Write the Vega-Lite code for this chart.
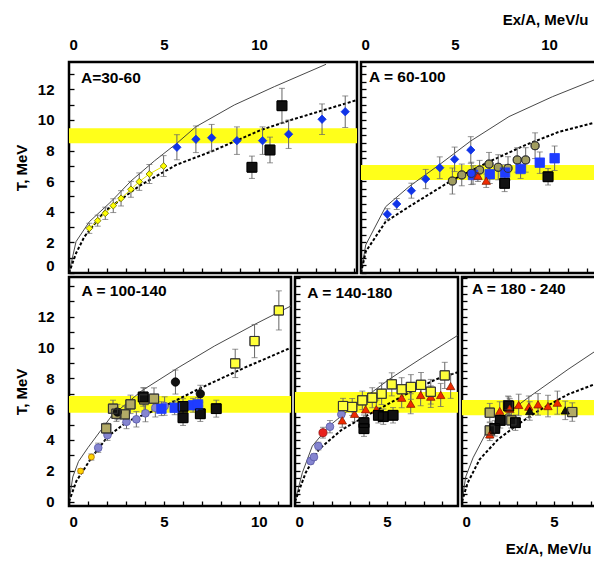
{
  "$schema": "https://vega.github.io/schema/vega-lite/v6.json",
  "background": "white",
  "padding": {"left": 13, "top": 10, "right": 0, "bottom": 0},
  "config": {
    "view": {"stroke": "#000", "strokeWidth": 2.5},
    "font": "Liberation Sans",
    "axis": {"labelFont": "Liberation Sans", "labelFontWeight": "bold", "labelFontSize": 15, "labelColor": "#000",
             "titleFont": "Liberation Sans", "titleFontWeight": "bold", "titleFontSize": 15, "titleColor": "#000",
             "tickColor": "#000", "tickWidth": 1.3, "domain": false, "grid": false, "labelOverlap": false}
  },
  "datasets": {
    "pts": [
      {"p":1,"s":"ydia","E":1.07,"T":2.92,"err":0.33},
      {"p":1,"s":"ydia","E":1.51,"T":3.42,"err":0.36},
      {"p":1,"s":"ydia","E":1.91,"T":3.9,"err":0.4},
      {"p":1,"s":"ydia","E":2.33,"T":4.4,"err":0.45},
      {"p":1,"s":"ydia","E":2.74,"T":4.88,"err":0.5},
      {"p":1,"s":"ydia","E":3.26,"T":5.47,"err":0.52},
      {"p":1,"s":"ydia","E":3.7,"T":5.97,"err":0.57},
      {"p":1,"s":"ydia","E":4.23,"T":6.47,"err":0.62},
      {"p":1,"s":"ydia","E":4.98,"T":6.99,"err":0.68},
      {"p":1,"s":"bdia","E":5.68,"T":8.22,"err":0.82},
      {"p":1,"s":"bdia","E":6.68,"T":8.74,"err":0.87},
      {"p":1,"s":"bdia","E":7.51,"T":8.84,"err":0.87},
      {"p":1,"s":"bdia","E":8.84,"T":8.65,"err":0.9},
      {"p":1,"s":"bdia","E":10.19,"T":8.65,"err":0.9},
      {"p":1,"s":"bdia","E":11.56,"T":9.07,"err":0.93},
      {"p":1,"s":"bdia","E":13.32,"T":10.05,"err":1.0},
      {"p":1,"s":"bdia","E":14.54,"T":10.54,"err":1.03},
      {"p":1,"s":"bsq","E":9.63,"T":6.91,"err":0.73},
      {"p":1,"s":"bsq","E":10.58,"T":8.04,"err":0.84},
      {"p":1,"s":"bsq","E":11.21,"T":10.93,"err":1.14},

      {"p":2,"s":"bdia","E":1.4,"T":3.84,"err":0.36},
      {"p":2,"s":"bdia","E":1.9,"T":4.51,"err":0.36},
      {"p":2,"s":"bdia","E":2.68,"T":5.38,"err":0.49},
      {"p":2,"s":"bdia","E":3.44,"T":6.14,"err":0.63},
      {"p":2,"s":"bdia","E":4.19,"T":6.88,"err":0.71},
      {"p":2,"s":"bdia","E":4.98,"T":7.43,"err":0.8},
      {"p":2,"s":"bdia","E":5.84,"T":8.04,"err":0.87},
      {"p":2,"s":"olc","E":4.86,"T":6.01,"err":0.85},
      {"p":2,"s":"olc","E":5.36,"T":6.41,"err":0.71},
      {"p":2,"s":"olc","E":5.87,"T":6.51,"err":0.73},
      {"p":2,"s":"olc","E":6.31,"T":6.73,"err":0.63},
      {"p":2,"s":"olc","E":6.81,"T":7.12,"err":0.76},
      {"p":2,"s":"olc","E":7.3,"T":6.91,"err":0.82},
      {"p":2,"s":"olc","E":7.82,"T":6.84,"err":0.76},
      {"p":2,"s":"olc","E":8.31,"T":7.39,"err":0.8},
      {"p":2,"s":"olc","E":8.76,"T":7.39,"err":0.8},
      {"p":2,"s":"olc","E":9.26,"T":8.32,"err":0.84},
      {"p":2,"s":"blsq","E":5.96,"T":6.41,"err":0.6},
      {"p":2,"s":"blsq","E":6.85,"T":6.45,"err":0.6},
      {"p":2,"s":"blsq","E":7.66,"T":6.56,"err":0.52},
      {"p":2,"s":"blsq","E":8.49,"T":6.8,"err":0.62},
      {"p":2,"s":"blsq","E":9.51,"T":7.21,"err":0.7},
      {"p":2,"s":"blsq","E":10.3,"T":7.5,"err":0.8},
      {"p":2,"s":"rtri","E":6.22,"T":6.36,"err":0.38},
      {"p":2,"s":"rtri","E":6.66,"T":6.03,"err":0.44},
      {"p":2,"s":"bsq","E":7.64,"T":5.86,"err":0.54},
      {"p":2,"s":"bsq","E":9.95,"T":6.29,"err":0.54},

      {"p":3,"s":"ysmall","E":0.61,"T":1.98,"err":0.15},
      {"p":3,"s":"ysmall","E":1.18,"T":2.89,"err":0.2},
      {"p":3,"s":"lavc","E":1.54,"T":3.49,"err":0.3},
      {"p":3,"s":"lavc","E":2.03,"T":4.32,"err":0.35},
      {"p":3,"s":"lavc","E":3.03,"T":5.18,"err":0.45},
      {"p":3,"s":"lavc","E":3.55,"T":5.34,"err":0.5},
      {"p":3,"s":"lavc","E":4.03,"T":5.73,"err":0.55},
      {"p":3,"s":"lavc","E":4.55,"T":6.09,"err":0.6},
      {"p":3,"s":"lavc","E":5.04,"T":6.2,"err":0.6},
      {"p":3,"s":"hsq","E":1.96,"T":4.75,"err":0.35},
      {"p":3,"s":"hsq","E":2.32,"T":6.03,"err":0.55},
      {"p":3,"s":"hsq","E":2.5,"T":5.7,"err":0.5},
      {"p":3,"s":"hsq","E":2.94,"T":5.66,"err":0.55},
      {"p":3,"s":"hsq","E":3.24,"T":6.31,"err":0.6},
      {"p":3,"s":"hsq","E":3.96,"T":6.63,"err":0.75},
      {"p":3,"s":"hsq","E":4.48,"T":6.68,"err":0.7},
      {"p":3,"s":"blc","E":2.55,"T":5.81,"err":0.5},
      {"p":3,"s":"blc","E":5.61,"T":7.76,"err":0.78},
      {"p":3,"s":"blc","E":6.92,"T":7.0,"err":0.55},
      {"p":3,"s":"bsq","E":3.91,"T":6.79,"err":0.6},
      {"p":3,"s":"bsq","E":6.01,"T":6.18,"err":0.5},
      {"p":3,"s":"bsq","E":6.01,"T":5.44,"err":0.5},
      {"p":3,"s":"bsq","E":6.92,"T":5.7,"err":0.5},
      {"p":3,"s":"bsq","E":7.76,"T":6.03,"err":0.55},
      {"p":3,"s":"blsq","E":4.87,"T":6.03,"err":0.45},
      {"p":3,"s":"blsq","E":5.57,"T":6.09,"err":0.45},
      {"p":3,"s":"blsq","E":6.54,"T":6.25,"err":0.45},
      {"p":3,"s":"blsq","E":6.8,"T":6.31,"err":0.45},
      {"p":3,"s":"ysq","E":8.76,"T":8.97,"err":0.92},
      {"p":3,"s":"ysq","E":9.78,"T":10.42,"err":1.08},
      {"p":3,"s":"ysq","E":11.06,"T":12.41,"err":1.27},

      {"p":4,"s":"lavc","E":0.85,"T":2.63,"err":0.2},
      {"p":4,"s":"lavc","E":1.03,"T":2.89,"err":0.2},
      {"p":4,"s":"lavc","E":1.27,"T":3.6,"err":0.25},
      {"p":4,"s":"lavc","E":1.9,"T":4.86,"err":0.4},
      {"p":4,"s":"lavc","E":2.52,"T":5.66,"err":0.45},
      {"p":4,"s":"rcirc","E":1.52,"T":4.47,"err":0.35},
      {"p":4,"s":"rtri","E":2.57,"T":5.27,"err":0.45},
      {"p":4,"s":"rtri","E":3.24,"T":5.7,"err":0.5},
      {"p":4,"s":"rtri","E":3.84,"T":5.99,"err":0.55},
      {"p":4,"s":"rtri","E":4.42,"T":5.99,"err":0.6},
      {"p":4,"s":"rtri","E":5.8,"T":6.74,"err":0.65},
      {"p":4,"s":"rtri","E":6.29,"T":6.35,"err":0.65},
      {"p":4,"s":"rtri","E":6.83,"T":6.92,"err":0.7},
      {"p":4,"s":"rtri","E":7.38,"T":6.81,"err":0.7},
      {"p":4,"s":"rtri","E":7.92,"T":6.92,"err":0.75},
      {"p":4,"s":"rtri","E":8.46,"T":7.5,"err":0.8},
      {"p":4,"s":"ysq","E":2.61,"T":6.2,"err":0.5},
      {"p":4,"s":"ysq","E":3.11,"T":6.14,"err":0.55},
      {"p":4,"s":"ysq","E":3.66,"T":6.57,"err":0.6},
      {"p":4,"s":"ysq","E":4.2,"T":6.74,"err":0.65},
      {"p":4,"s":"ysq","E":4.71,"T":7.0,"err":0.7},
      {"p":4,"s":"ysq","E":5.26,"T":7.61,"err":0.75},
      {"p":4,"s":"ysq","E":5.8,"T":7.29,"err":0.75},
      {"p":4,"s":"ysq","E":6.3,"T":7.44,"err":0.8},
      {"p":4,"s":"ysq","E":6.85,"T":7.58,"err":0.8},
      {"p":4,"s":"ysq","E":7.38,"T":7.13,"err":0.8},
      {"p":4,"s":"ysq","E":8.14,"T":8.19,"err":0.85},
      {"p":4,"s":"bsq","E":3.75,"T":5.12,"err":0.5},
      {"p":4,"s":"bsq","E":3.75,"T":4.73,"err":0.5},
      {"p":4,"s":"bsq","E":4.53,"T":5.6,"err":0.5},
      {"p":4,"s":"bsq","E":4.8,"T":5.51,"err":0.5},
      {"p":4,"s":"bsq","E":5.33,"T":5.6,"err":0.5},

      {"p":5,"s":"hsq","E":1.51,"T":5.77,"err":0.6},
      {"p":5,"s":"hsq","E":1.51,"T":4.62,"err":0.5},
      {"p":5,"s":"hsq","E":2.5,"T":6.25,"err":0.6},
      {"p":5,"s":"hsq","E":2.68,"T":5.27,"err":0.5},
      {"p":5,"s":"hsq","E":5.99,"T":5.81,"err":0.6},
      {"p":5,"s":"bsq","E":1.78,"T":4.75,"err":0.5},
      {"p":5,"s":"bsq","E":2.08,"T":5.27,"err":0.5},
      {"p":5,"s":"bsq","E":2.54,"T":6.2,"err":0.6},
      {"p":5,"s":"bsq","E":2.9,"T":5.12,"err":0.5},
      {"p":5,"s":"rtri","E":1.51,"T":4.36,"err":0.4},
      {"p":5,"s":"rtri","E":2.05,"T":5.88,"err":0.6},
      {"p":5,"s":"rtri","E":2.59,"T":6.03,"err":0.65},
      {"p":5,"s":"rtri","E":3.08,"T":6.27,"err":0.7},
      {"p":5,"s":"rtri","E":3.63,"T":6.16,"err":0.7},
      {"p":5,"s":"rtri","E":4.13,"T":6.31,"err":0.7},
      {"p":5,"s":"rtri","E":4.67,"T":6.2,"err":0.7},
      {"p":5,"s":"rtri","E":5.18,"T":6.42,"err":0.75},
      {"p":5,"s":"btri","E":3.68,"T":5.88,"err":0.6},
      {"p":5,"s":"btri","E":5.61,"T":5.92,"err":0.6}
    ],
    "curves": [
      {"p":1,"c":"solid","E":0,"T":0},{"p":1,"c":"solid","E":0.37,"T":2.05},{"p":1,"c":"solid","E":1.07,"T":3.35},
      {"p":1,"c":"solid","E":2.21,"T":4.66},{"p":1,"c":"solid","E":3.26,"T":6.01},{"p":1,"c":"solid","E":4.49,"T":7.32},
      {"p":1,"c":"solid","E":5.68,"T":8.48},{"p":1,"c":"solid","E":6.68,"T":9.56},{"p":1,"c":"solid","E":8.7,"T":10.98},
      {"p":1,"c":"solid","E":10.81,"T":12.18},{"p":1,"c":"solid","E":13.53,"T":13.64},
      {"p":1,"c":"dashed","E":0,"T":0},{"p":1,"c":"dashed","E":0.37,"T":1.29},{"p":1,"c":"dashed","E":0.81,"T":2.37},
      {"p":1,"c":"dashed","E":1.86,"T":4.01},{"p":1,"c":"dashed","E":3.7,"T":5.69},{"p":1,"c":"dashed","E":5.63,"T":7.06},
      {"p":1,"c":"dashed","E":7.47,"T":7.93},{"p":1,"c":"dashed","E":10.11,"T":9.35},{"p":1,"c":"dashed","E":11.68,"T":10.0},
      {"p":1,"c":"dashed","E":15.15,"T":11.3},

      {"p":2,"c":"solid","E":0,"T":0},{"p":2,"c":"solid","E":0.25,"T":1.83},{"p":2,"c":"solid","E":1.31,"T":4.33},
      {"p":2,"c":"solid","E":2.55,"T":5.64},{"p":2,"c":"solid","E":4.15,"T":7.06},{"p":2,"c":"solid","E":5.84,"T":8.63},
      {"p":2,"c":"solid","E":7.87,"T":10.22},{"p":2,"c":"solid","E":10.18,"T":11.52},{"p":2,"c":"solid","E":12.61,"T":12.72},
      {"p":2,"c":"dashed","E":0,"T":0},{"p":2,"c":"dashed","E":0.25,"T":1.39},{"p":2,"c":"dashed","E":1.31,"T":3.35},
      {"p":2,"c":"dashed","E":2.55,"T":4.33},{"p":2,"c":"dashed","E":4.86,"T":6.08},{"p":2,"c":"dashed","E":6.81,"T":7.27},
      {"p":2,"c":"dashed","E":8.76,"T":8.37},{"p":2,"c":"dashed","E":10.56,"T":9.24},{"p":2,"c":"dashed","E":12.61,"T":9.89},

      {"p":3,"c":"solid","E":0,"T":0},{"p":3,"c":"solid","E":0.2,"T":1.6},{"p":3,"c":"solid","E":0.5,"T":2.6},
      {"p":3,"c":"solid","E":1.0,"T":3.5},{"p":3,"c":"solid","E":2.24,"T":5.55},{"p":3,"c":"solid","E":3.82,"T":7.18},
      {"p":3,"c":"solid","E":5.75,"T":8.69},{"p":3,"c":"solid","E":7.67,"T":10.1},{"p":3,"c":"solid","E":9.78,"T":11.5},
      {"p":3,"c":"solid","E":11.7,"T":12.7},
      {"p":3,"c":"dashed","E":0,"T":0},{"p":3,"c":"dashed","E":0.39,"T":1.33},{"p":3,"c":"dashed","E":1.18,"T":2.84},
      {"p":3,"c":"dashed","E":2.06,"T":4.25},{"p":3,"c":"dashed","E":3.12,"T":5.23},{"p":3,"c":"dashed","E":4.87,"T":6.09},
      {"p":3,"c":"dashed","E":6.97,"T":7.39},{"p":3,"c":"dashed","E":9.25,"T":8.69},{"p":3,"c":"dashed","E":11.7,"T":9.99},

      {"p":4,"c":"solid","E":0,"T":0},{"p":4,"c":"solid","E":0.4,"T":1.87},{"p":4,"c":"solid","E":0.94,"T":3.6},
      {"p":4,"c":"solid","E":1.85,"T":4.9},{"p":4,"c":"solid","E":3.3,"T":6.31},{"p":4,"c":"solid","E":5.11,"T":7.93},
      {"p":4,"c":"solid","E":6.92,"T":9.34},{"p":4,"c":"solid","E":8.86,"T":10.8},
      {"p":4,"c":"dashed","E":0,"T":0},{"p":4,"c":"dashed","E":0.58,"T":1.87},{"p":4,"c":"dashed","E":1.3,"T":3.39},
      {"p":4,"c":"dashed","E":2.57,"T":4.69},{"p":4,"c":"dashed","E":4.2,"T":5.77},{"p":4,"c":"dashed","E":6.02,"T":6.96},
      {"p":4,"c":"dashed","E":7.65,"T":7.93},{"p":4,"c":"dashed","E":8.86,"T":8.4},

      {"p":5,"c":"solid","E":0,"T":0},{"p":5,"c":"solid","E":0.2,"T":1.6},{"p":5,"c":"solid","E":0.6,"T":2.84},
      {"p":5,"c":"solid","E":1.41,"T":4.69},{"p":5,"c":"solid","E":2.5,"T":5.77},{"p":5,"c":"solid","E":3.59,"T":6.74},
      {"p":5,"c":"solid","E":5.76,"T":8.58},{"p":5,"c":"solid","E":7.66,"T":10.1},
      {"p":5,"c":"dashed","E":0,"T":0},{"p":5,"c":"dashed","E":0.3,"T":1.2},{"p":5,"c":"dashed","E":0.96,"T":2.74},
      {"p":5,"c":"dashed","E":1.96,"T":4.04},{"p":5,"c":"dashed","E":3.04,"T":5.01},{"p":5,"c":"dashed","E":4.13,"T":5.88},
      {"p":5,"c":"dashed","E":5.76,"T":6.96},{"p":5,"c":"dashed","E":7.66,"T":7.82}
    ],
    "bands": [
      {"p":1,"lo":8.48,"hi":9.46},
      {"p":2,"lo":6.08,"hi":7.06},
      {"p":3,"lo":5.77,"hi":6.85},
      {"p":4,"lo":5.77,"hi":7.11},
      {"p":5,"lo":5.6,"hi":6.59}
    ],
    "labels": [
      {"p":1,"t":"A=30-60"},
      {"p":2,"t":"A = 60-100"},
      {"p":3,"t":"A = 100-140"},
      {"p":4,"t":"A = 140-180"},
      {"p":5,"t":"A = 180 - 240"}
    ]
  },
  "spacing": 0,
  "vconcat": [
    {
      "spacing": 0,
      "hconcat": [
        {
          "width": 288, "height": 211,
          "resolve": {"axis": {"x": "independent", "y": "independent"}},
          "layer": [
            {"data": {"name": "bands"}, "transform": [{"filter": "datum.p === 1"}],
             "mark": {"type": "rect", "color": "#ffff1a"},
             "encoding": {"x": {"value": 0}, "x2": {"value": "width"},
               "y": {"field": "lo", "type": "quantitative", "scale": {"domain": [0, 13.79], "nice": false, "zero": false},
                     "axis": {"orient": "left", "values": [0,0.5,1,1.5,2,2.5,3,3.5,4,4.5,5,5.5,6,6.5,7,7.5,8,8.5,9,9.5,10,10.5,11,11.5,12,12.5,13,13.5],
                              "format": "d", "labelExpr": "datum.value % 2 === 0 && datum.value <= 12 ? datum.label : ''",
                              "labelFlush": true,
                              "tickSize": 5, "offset": -5, "labelPadding": 15, "title": "T, MeV", "titlePadding": 8}},
               "y2": {"field": "hi"}}},
            {"data": {"name": "curves"}, "transform": [{"filter": "datum.p === 1 && datum.c === 'solid'"}],
             "mark": {"type": "line", "color": "#333", "strokeWidth": 0.9, "clip": true},
             "encoding": {"x": {"field": "E", "type": "quantitative", "scale": {"domain": [0, 15.16], "nice": false, "zero": false},
                                "axis": {"orient": "top", "values": [0, 5, 10], "ticks": false, "labelPadding": 10, "title": null}},
                          "y": {"field": "T", "type": "quantitative", "scale": {"domain": [0, 13.79], "nice": false, "zero": false}, "axis": null}}},
            {"data": {"name": "curves"}, "transform": [{"filter": "datum.p === 1 && datum.c === 'dashed'"}],
             "mark": {"type": "line", "color": "#000", "strokeWidth": 2, "strokeDash": [3, 2], "clip": true},
             "encoding": {"x": {"field": "E", "type": "quantitative", "scale": {"domain": [0, 15.16], "nice": false, "zero": false},
                                "axis": {"orient": "bottom", "values": [0,1,2,3,4,5,6,7,8,9,10,11,12,13,14,15], "labels": false, "title": null, "tickSize": 5, "offset": -5}},
                          "y": {"field": "T", "type": "quantitative", "scale": {"domain": [0, 13.79], "nice": false, "zero": false}, "axis": null}}},
            {"data": {"name": "pts"}, "transform": [{"filter": "datum.p === 1 && datum.s === 'ydia'"}],
             "mark": {"type": "line", "color": "#e6e600", "strokeWidth": 1},
             "encoding": {"x": {"field": "E", "type": "quantitative", "scale": {"domain": [0, 15.16], "nice": false, "zero": false}, "axis": null},
                          "y": {"field": "T", "type": "quantitative", "scale": {"domain": [0, 13.79], "nice": false, "zero": false}, "axis": null}}},
            {"data": {"name": "pts"}, "transform": [{"filter": "datum.p === 1"}],
             "mark": {"type": "errorbar", "ticks": true, "size": 6, "thickness": 1, "color": "#666"},
             "encoding": {"x": {"field": "E", "type": "quantitative", "scale": {"domain": [0, 15.16], "nice": false, "zero": false}, "axis": null},
                          "y": {"field": "T", "type": "quantitative", "scale": {"domain": [0, 13.79], "nice": false, "zero": false}, "axis": null},
                          "yError": {"field": "err"}}},
            {"data": {"name": "pts"}, "transform": [{"filter": "datum.p === 1"}],
             "mark": {"type": "point", "opacity": 1, "strokeWidth": 0.8},
             "encoding": {"x": {"field": "E", "type": "quantitative", "scale": {"domain": [0, 15.16], "nice": false, "zero": false}, "axis": null},
                          "y": {"field": "T", "type": "quantitative", "scale": {"domain": [0, 13.79], "nice": false, "zero": false}, "axis": null},
                          "shape": {"field": "s", "type": "nominal", "legend": null, "scale": {"domain": ["ydia","bdia","bsq","olc","blsq","rtri","lavc","ysmall","blc","ysq","hsq","btri","rcirc"], "range": ["diamond","diamond","square","circle","square","triangle-up","circle","circle","circle","square","square","triangle-up","circle"]}},
                          "fill": {"field": "s", "type": "nominal", "legend": null, "scale": {"domain": ["ydia","bdia","bsq","olc","blsq","rtri","lavc","ysmall","blc","ysq","hsq","btri","rcirc"], "range": ["#ffff00","#1034e8","#111111","#a19d5f","#1f3cff","#f02a00","#8585d0","#ffd400","#111111","#ffff3a","#b2aa66","#111111","#e8201c"]}},
                          "stroke": {"field": "s", "type": "nominal", "legend": null, "scale": {"domain": ["ydia","bdia","bsq","olc","blsq","rtri","lavc","ysmall","blc","ysq","hsq","btri","rcirc"], "range": ["#6b6b00","#1034e8","#000000","#333333","#1f3cff","#8a2000","#5858a8","#b07000","#000000","#333333","#333333","#000000","#901010"]}},
                          "size": {"field": "s", "type": "nominal", "legend": null, "scale": {"type": "ordinal", "domain": ["ydia","bdia","bsq","olc","blsq","rtri","lavc","ysmall","blc","ysq","hsq","btri","rcirc"], "range": [45,70,95,65,90,70,60,35,70,85,85,70,65]}}}},
            {"data": {"name": "pts"}, "transform": [{"filter": "datum.p === 1 && (datum.s === 'bsq' || datum.s === 'ysq' || datum.s === 'hsq' || datum.s === 'olc')"}],
             "mark": {"type": "point", "opacity": 1, "strokeWidth": 1, "filled": false},
             "encoding": {"x": {"field": "E", "type": "quantitative", "scale": {"domain": [0, 15.16], "nice": false, "zero": false}, "axis": null},
                          "y": {"field": "T", "type": "quantitative", "scale": {"domain": [0, 13.79], "nice": false, "zero": false}, "axis": null},
                          "shape": {"field": "s", "type": "nominal", "legend": null, "scale": {"domain": ["bsq","ysq","hsq","olc"], "range": ["M-1,0H1M0,-1V1","circle","M-1,-1L1,1M1,-1L-1,1","M-0.6,-0.6L0.6,0.6M0.6,-0.6L-0.6,0.6"]}},
                          "stroke": {"field": "s", "type": "nominal", "legend": null, "scale": {"domain": ["bsq","ysq","hsq","olc"], "range": ["#ffff66","#333333","#222222","#333333"]}},
                          "size": {"field": "s", "type": "nominal", "legend": null, "scale": {"type": "ordinal", "domain": ["bsq","ysq","hsq","olc"], "range": [40,4,50,30]}}}},
            {"data": {"name": "labels"}, "transform": [{"filter": "datum.p === 1"}],
             "mark": {"type": "text", "align": "left", "baseline": "middle", "font": "Liberation Sans", "fontWeight": "bold", "fontSize": 15.5, "color": "#000"},
             "encoding": {"x": {"datum": 0.63, "type": "quantitative", "scale": {"domain": [0, 15.16], "nice": false, "zero": false}, "axis": null},
                          "y": {"datum": 12.75, "type": "quantitative", "scale": {"domain": [0, 13.79], "nice": false, "zero": false}, "axis": null},
                          "text": {"field": "t"}}}
          ]
        },
        {
          "width": 238, "height": 211,
          "resolve": {"axis": {"x": "independent", "y": "independent"}},
          "layer": [
            {"data": {"name": "bands"}, "transform": [{"filter": "datum.p === 2"}],
             "mark": {"type": "rect", "color": "#ffff1a"},
             "encoding": {"x": {"value": 0}, "x2": {"value": "width"},
               "y": {"field": "lo", "type": "quantitative", "scale": {"domain": [0, 13.79], "nice": false, "zero": false},
                     "axis": {"orient": "left", "values": [0,0.5,1,1.5,2,2.5,3,3.5,4,4.5,5,5.5,6,6.5,7,7.5,8,8.5,9,9.5,10,10.5,11,11.5,12,12.5,13,13.5],
                              "labels": false, "title": null, "tickSize": 5, "offset": -5}},
               "y2": {"field": "hi"}}},
            {"data": {"name": "curves"}, "transform": [{"filter": "datum.p === 2 && datum.c === 'solid'"}],
             "mark": {"type": "line", "color": "#333", "strokeWidth": 0.9, "clip": true},
             "encoding": {"x": {"field": "E", "type": "quantitative", "scale": {"domain": [0, 12.66], "nice": false, "zero": false},
                                "axis": {"orient": "top", "values": [0, 5, 10], "ticks": false, "labelPadding": 10,
                                         "title": "Ex/A, MeV/u", "titleX": 227, "titleAlign": "right", "titlePadding": 10}},
                          "y": {"field": "T", "type": "quantitative", "scale": {"domain": [0, 13.79], "nice": false, "zero": false}, "axis": null}}},
            {"data": {"name": "curves"}, "transform": [{"filter": "datum.p === 2 && datum.c === 'dashed'"}],
             "mark": {"type": "line", "color": "#000", "strokeWidth": 2, "strokeDash": [3, 2], "clip": true},
             "encoding": {"x": {"field": "E", "type": "quantitative", "scale": {"domain": [0, 12.66], "nice": false, "zero": false},
                                "axis": {"orient": "bottom", "values": [0,1,2,3,4,5,6,7,8,9,10,11,12], "labels": false, "title": null, "tickSize": 5, "offset": -5}},
                          "y": {"field": "T", "type": "quantitative", "scale": {"domain": [0, 13.79], "nice": false, "zero": false}, "axis": null}}},
            {"data": {"name": "pts"}, "transform": [{"filter": "datum.p === 2"}],
             "mark": {"type": "errorbar", "ticks": true, "size": 6, "thickness": 1, "color": "#666"},
             "encoding": {"x": {"field": "E", "type": "quantitative", "scale": {"domain": [0, 12.66], "nice": false, "zero": false}, "axis": null},
                          "y": {"field": "T", "type": "quantitative", "scale": {"domain": [0, 13.79], "nice": false, "zero": false}, "axis": null},
                          "yError": {"field": "err"}}},
            {"data": {"name": "pts"}, "transform": [{"filter": "datum.p === 2"}],
             "mark": {"type": "point", "opacity": 1, "strokeWidth": 0.8},
             "encoding": {"x": {"field": "E", "type": "quantitative", "scale": {"domain": [0, 12.66], "nice": false, "zero": false}, "axis": null},
                          "y": {"field": "T", "type": "quantitative", "scale": {"domain": [0, 13.79], "nice": false, "zero": false}, "axis": null},
                          "shape": {"field": "s", "type": "nominal", "legend": null, "scale": {"domain": ["ydia","bdia","bsq","olc","blsq","rtri","lavc","ysmall","blc","ysq","hsq","btri","rcirc"], "range": ["diamond","diamond","square","circle","square","triangle-up","circle","circle","circle","square","square","triangle-up","circle"]}},
                          "fill": {"field": "s", "type": "nominal", "legend": null, "scale": {"domain": ["ydia","bdia","bsq","olc","blsq","rtri","lavc","ysmall","blc","ysq","hsq","btri","rcirc"], "range": ["#ffff00","#1034e8","#111111","#a19d5f","#1f3cff","#f02a00","#8585d0","#ffd400","#111111","#ffff3a","#b2aa66","#111111","#e8201c"]}},
                          "stroke": {"field": "s", "type": "nominal", "legend": null, "scale": {"domain": ["ydia","bdia","bsq","olc","blsq","rtri","lavc","ysmall","blc","ysq","hsq","btri","rcirc"], "range": ["#6b6b00","#1034e8","#000000","#333333","#1f3cff","#8a2000","#5858a8","#b07000","#000000","#333333","#333333","#000000","#901010"]}},
                          "size": {"field": "s", "type": "nominal", "legend": null, "scale": {"type": "ordinal", "domain": ["ydia","bdia","bsq","olc","blsq","rtri","lavc","ysmall","blc","ysq","hsq","btri","rcirc"], "range": [45,70,95,65,90,70,60,35,70,85,85,70,65]}}}},
            {"data": {"name": "pts"}, "transform": [{"filter": "datum.p === 2 && (datum.s === 'bsq' || datum.s === 'ysq' || datum.s === 'hsq' || datum.s === 'olc')"}],
             "mark": {"type": "point", "opacity": 1, "strokeWidth": 1, "filled": false},
             "encoding": {"x": {"field": "E", "type": "quantitative", "scale": {"domain": [0, 12.66], "nice": false, "zero": false}, "axis": null},
                          "y": {"field": "T", "type": "quantitative", "scale": {"domain": [0, 13.79], "nice": false, "zero": false}, "axis": null},
                          "shape": {"field": "s", "type": "nominal", "legend": null, "scale": {"domain": ["bsq","ysq","hsq","olc"], "range": ["M-1,0H1M0,-1V1","circle","M-1,-1L1,1M1,-1L-1,1","M-0.6,-0.6L0.6,0.6M0.6,-0.6L-0.6,0.6"]}},
                          "stroke": {"field": "s", "type": "nominal", "legend": null, "scale": {"domain": ["bsq","ysq","hsq","olc"], "range": ["#ffff66","#333333","#222222","#333333"]}},
                          "size": {"field": "s", "type": "nominal", "legend": null, "scale": {"type": "ordinal", "domain": ["bsq","ysq","hsq","olc"], "range": [40,4,50,30]}}}},
            {"data": {"name": "labels"}, "transform": [{"filter": "datum.p === 2"}],
             "mark": {"type": "text", "align": "left", "baseline": "middle", "font": "Liberation Sans", "fontWeight": "bold", "fontSize": 15.5, "color": "#000"},
             "encoding": {"x": {"datum": 0.43, "type": "quantitative", "scale": {"domain": [0, 12.66], "nice": false, "zero": false}, "axis": null},
                          "y": {"datum": 12.83, "type": "quantitative", "scale": {"domain": [0, 13.79], "nice": false, "zero": false}, "axis": null},
                          "text": {"field": "t"}}}
          ]
        }
      ]
    },
    {
      "spacing": 0,
      "hconcat": [
        {
          "width": 222, "height": 229,
          "resolve": {"axis": {"x": "independent", "y": "independent"}},
          "layer": [
            {"data": {"name": "bands"}, "transform": [{"filter": "datum.p === 3"}],
             "mark": {"type": "rect", "color": "#ffff1a"},
             "encoding": {"x": {"value": 0}, "x2": {"value": "width"},
               "y": {"field": "lo", "type": "quantitative", "scale": {"domain": [-0.29, 14.58], "nice": false, "zero": false},
                     "axis": {"orient": "left", "values": [0,0.5,1,1.5,2,2.5,3,3.5,4,4.5,5,5.5,6,6.5,7,7.5,8,8.5,9,9.5,10,10.5,11,11.5,12,12.5,13,13.5,14,14.5],
                              "format": "d", "labelExpr": "datum.value % 2 === 0 && datum.value <= 12 ? datum.label : ''",
                              "tickSize": 5, "offset": -5, "labelPadding": 15, "title": "T, MeV", "titlePadding": 8}},
               "y2": {"field": "hi"}}},
            {"data": {"name": "curves"}, "transform": [{"filter": "datum.p === 3 && datum.c === 'solid'"}],
             "mark": {"type": "line", "color": "#333", "strokeWidth": 0.9, "clip": true},
             "encoding": {"x": {"field": "E", "type": "quantitative", "scale": {"domain": [0, 11.7], "nice": false, "zero": false}, "axis": null},
                          "y": {"field": "T", "type": "quantitative", "scale": {"domain": [-0.29, 14.58], "nice": false, "zero": false}, "axis": null}}},
            {"data": {"name": "curves"}, "transform": [{"filter": "datum.p === 3 && datum.c === 'dashed'"}],
             "mark": {"type": "line", "color": "#000", "strokeWidth": 2, "strokeDash": [3, 2], "clip": true},
             "encoding": {"x": {"field": "E", "type": "quantitative", "scale": {"domain": [0, 11.7], "nice": false, "zero": false},
                                "axis": {"orient": "bottom", "values": [0,1,2,3,4,5,6,7,8,9,10,11],
                                         "labelExpr": "datum.value % 5 === 0 ? datum.label : ''", "labelPadding": 8, "title": null, "tickSize": 5, "offset": -5}},
                          "y": {"field": "T", "type": "quantitative", "scale": {"domain": [-0.29, 14.58], "nice": false, "zero": false}, "axis": null}}},
            {"data": {"name": "pts"}, "transform": [{"filter": "datum.p === 3"}],
             "mark": {"type": "errorbar", "ticks": true, "size": 6, "thickness": 1, "color": "#666"},
             "encoding": {"x": {"field": "E", "type": "quantitative", "scale": {"domain": [0, 11.7], "nice": false, "zero": false}, "axis": null},
                          "y": {"field": "T", "type": "quantitative", "scale": {"domain": [-0.29, 14.58], "nice": false, "zero": false}, "axis": null},
                          "yError": {"field": "err"}}},
            {"data": {"name": "pts"}, "transform": [{"filter": "datum.p === 3"}],
             "mark": {"type": "point", "opacity": 1, "strokeWidth": 0.8},
             "encoding": {"x": {"field": "E", "type": "quantitative", "scale": {"domain": [0, 11.7], "nice": false, "zero": false}, "axis": null},
                          "y": {"field": "T", "type": "quantitative", "scale": {"domain": [-0.29, 14.58], "nice": false, "zero": false}, "axis": null},
                          "shape": {"field": "s", "type": "nominal", "legend": null, "scale": {"domain": ["ydia","bdia","bsq","olc","blsq","rtri","lavc","ysmall","blc","ysq","hsq","btri","rcirc"], "range": ["diamond","diamond","square","circle","square","triangle-up","circle","circle","circle","square","square","triangle-up","circle"]}},
                          "fill": {"field": "s", "type": "nominal", "legend": null, "scale": {"domain": ["ydia","bdia","bsq","olc","blsq","rtri","lavc","ysmall","blc","ysq","hsq","btri","rcirc"], "range": ["#ffff00","#1034e8","#111111","#a19d5f","#1f3cff","#f02a00","#8585d0","#ffd400","#111111","#ffff3a","#b2aa66","#111111","#e8201c"]}},
                          "stroke": {"field": "s", "type": "nominal", "legend": null, "scale": {"domain": ["ydia","bdia","bsq","olc","blsq","rtri","lavc","ysmall","blc","ysq","hsq","btri","rcirc"], "range": ["#6b6b00","#1034e8","#000000","#333333","#1f3cff","#8a2000","#5858a8","#b07000","#000000","#333333","#333333","#000000","#901010"]}},
                          "size": {"field": "s", "type": "nominal", "legend": null, "scale": {"type": "ordinal", "domain": ["ydia","bdia","bsq","olc","blsq","rtri","lavc","ysmall","blc","ysq","hsq","btri","rcirc"], "range": [45,70,95,65,90,70,60,35,70,85,85,70,65]}}}},
            {"data": {"name": "pts"}, "transform": [{"filter": "datum.p === 3 && (datum.s === 'bsq' || datum.s === 'ysq' || datum.s === 'hsq' || datum.s === 'olc')"}],
             "mark": {"type": "point", "opacity": 1, "strokeWidth": 1, "filled": false},
             "encoding": {"x": {"field": "E", "type": "quantitative", "scale": {"domain": [0, 11.7], "nice": false, "zero": false}, "axis": null},
                          "y": {"field": "T", "type": "quantitative", "scale": {"domain": [-0.29, 14.58], "nice": false, "zero": false}, "axis": null},
                          "shape": {"field": "s", "type": "nominal", "legend": null, "scale": {"domain": ["bsq","ysq","hsq","olc"], "range": ["M-1,0H1M0,-1V1","circle","M-1,-1L1,1M1,-1L-1,1","M-0.6,-0.6L0.6,0.6M0.6,-0.6L-0.6,0.6"]}},
                          "stroke": {"field": "s", "type": "nominal", "legend": null, "scale": {"domain": ["bsq","ysq","hsq","olc"], "range": ["#ffff66","#333333","#222222","#333333"]}},
                          "size": {"field": "s", "type": "nominal", "legend": null, "scale": {"type": "ordinal", "domain": ["bsq","ysq","hsq","olc"], "range": [40,4,50,30]}}}},
            {"data": {"name": "labels"}, "transform": [{"filter": "datum.p === 3"}],
             "mark": {"type": "text", "align": "left", "baseline": "middle", "font": "Liberation Sans", "fontWeight": "bold", "fontSize": 15.5, "color": "#000"},
             "encoding": {"x": {"datum": 0.66, "type": "quantitative", "scale": {"domain": [0, 11.7], "nice": false, "zero": false}, "axis": null},
                          "y": {"datum": 13.67, "type": "quantitative", "scale": {"domain": [-0.29, 14.58], "nice": false, "zero": false}, "axis": null},
                          "text": {"field": "t"}}}
          ]
        },
        {
          "width": 163, "height": 229,
          "resolve": {"axis": {"x": "independent", "y": "independent"}},
          "layer": [
            {"data": {"name": "bands"}, "transform": [{"filter": "datum.p === 4"}],
             "mark": {"type": "rect", "color": "#ffff1a"},
             "encoding": {"x": {"value": 0}, "x2": {"value": "width"},
               "y": {"field": "lo", "type": "quantitative", "scale": {"domain": [-0.29, 14.58], "nice": false, "zero": false},
                     "axis": {"orient": "left", "values": [0,0.5,1,1.5,2,2.5,3,3.5,4,4.5,5,5.5,6,6.5,7,7.5,8,8.5,9,9.5,10,10.5,11,11.5,12,12.5,13,13.5,14,14.5],
                              "labels": false, "title": null, "tickSize": 5, "offset": -5}},
               "y2": {"field": "hi"}}},
            {"data": {"name": "curves"}, "transform": [{"filter": "datum.p === 4 && datum.c === 'solid'"}],
             "mark": {"type": "line", "color": "#333", "strokeWidth": 0.9, "clip": true},
             "encoding": {"x": {"field": "E", "type": "quantitative", "scale": {"domain": [0, 8.86], "nice": false, "zero": false}, "axis": null},
                          "y": {"field": "T", "type": "quantitative", "scale": {"domain": [-0.29, 14.58], "nice": false, "zero": false}, "axis": null}}},
            {"data": {"name": "curves"}, "transform": [{"filter": "datum.p === 4 && datum.c === 'dashed'"}],
             "mark": {"type": "line", "color": "#000", "strokeWidth": 2, "strokeDash": [3, 2], "clip": true},
             "encoding": {"x": {"field": "E", "type": "quantitative", "scale": {"domain": [0, 8.86], "nice": false, "zero": false},
                                "axis": {"orient": "bottom", "values": [0,1,2,3,4,5,6,7,8],
                                         "labelExpr": "datum.value % 5 === 0 ? datum.label : ''", "labelPadding": 8, "title": null, "tickSize": 5, "offset": -5}},
                          "y": {"field": "T", "type": "quantitative", "scale": {"domain": [-0.29, 14.58], "nice": false, "zero": false}, "axis": null}}},
            {"data": {"name": "pts"}, "transform": [{"filter": "datum.p === 4"}],
             "mark": {"type": "errorbar", "ticks": true, "size": 6, "thickness": 1, "color": "#666"},
             "encoding": {"x": {"field": "E", "type": "quantitative", "scale": {"domain": [0, 8.86], "nice": false, "zero": false}, "axis": null},
                          "y": {"field": "T", "type": "quantitative", "scale": {"domain": [-0.29, 14.58], "nice": false, "zero": false}, "axis": null},
                          "yError": {"field": "err"}}},
            {"data": {"name": "pts"}, "transform": [{"filter": "datum.p === 4"}],
             "mark": {"type": "point", "opacity": 1, "strokeWidth": 0.8},
             "encoding": {"x": {"field": "E", "type": "quantitative", "scale": {"domain": [0, 8.86], "nice": false, "zero": false}, "axis": null},
                          "y": {"field": "T", "type": "quantitative", "scale": {"domain": [-0.29, 14.58], "nice": false, "zero": false}, "axis": null},
                          "shape": {"field": "s", "type": "nominal", "legend": null, "scale": {"domain": ["ydia","bdia","bsq","olc","blsq","rtri","lavc","ysmall","blc","ysq","hsq","btri","rcirc"], "range": ["diamond","diamond","square","circle","square","triangle-up","circle","circle","circle","square","square","triangle-up","circle"]}},
                          "fill": {"field": "s", "type": "nominal", "legend": null, "scale": {"domain": ["ydia","bdia","bsq","olc","blsq","rtri","lavc","ysmall","blc","ysq","hsq","btri","rcirc"], "range": ["#ffff00","#1034e8","#111111","#a19d5f","#1f3cff","#f02a00","#8585d0","#ffd400","#111111","#ffff3a","#b2aa66","#111111","#e8201c"]}},
                          "stroke": {"field": "s", "type": "nominal", "legend": null, "scale": {"domain": ["ydia","bdia","bsq","olc","blsq","rtri","lavc","ysmall","blc","ysq","hsq","btri","rcirc"], "range": ["#6b6b00","#1034e8","#000000","#333333","#1f3cff","#8a2000","#5858a8","#b07000","#000000","#333333","#333333","#000000","#901010"]}},
                          "size": {"field": "s", "type": "nominal", "legend": null, "scale": {"type": "ordinal", "domain": ["ydia","bdia","bsq","olc","blsq","rtri","lavc","ysmall","blc","ysq","hsq","btri","rcirc"], "range": [45,70,95,65,90,70,60,35,70,85,85,70,65]}}}},
            {"data": {"name": "pts"}, "transform": [{"filter": "datum.p === 4 && (datum.s === 'bsq' || datum.s === 'ysq' || datum.s === 'hsq' || datum.s === 'olc')"}],
             "mark": {"type": "point", "opacity": 1, "strokeWidth": 1, "filled": false},
             "encoding": {"x": {"field": "E", "type": "quantitative", "scale": {"domain": [0, 8.86], "nice": false, "zero": false}, "axis": null},
                          "y": {"field": "T", "type": "quantitative", "scale": {"domain": [-0.29, 14.58], "nice": false, "zero": false}, "axis": null},
                          "shape": {"field": "s", "type": "nominal", "legend": null, "scale": {"domain": ["bsq","ysq","hsq","olc"], "range": ["M-1,0H1M0,-1V1","circle","M-1,-1L1,1M1,-1L-1,1","M-0.6,-0.6L0.6,0.6M0.6,-0.6L-0.6,0.6"]}},
                          "stroke": {"field": "s", "type": "nominal", "legend": null, "scale": {"domain": ["bsq","ysq","hsq","olc"], "range": ["#ffff66","#333333","#222222","#333333"]}},
                          "size": {"field": "s", "type": "nominal", "legend": null, "scale": {"type": "ordinal", "domain": ["bsq","ysq","hsq","olc"], "range": [40,4,50,30]}}}},
            {"data": {"name": "labels"}, "transform": [{"filter": "datum.p === 4"}],
             "mark": {"type": "text", "align": "left", "baseline": "middle", "font": "Liberation Sans", "fontWeight": "bold", "fontSize": 15.5, "color": "#000"},
             "encoding": {"x": {"datum": 0.67, "type": "quantitative", "scale": {"domain": [0, 8.86], "nice": false, "zero": false}, "axis": null},
                          "y": {"datum": 13.56, "type": "quantitative", "scale": {"domain": [-0.29, 14.58], "nice": false, "zero": false}, "axis": null},
                          "text": {"field": "t"}}}
          ]
        },
        {
          "width": 141, "height": 229,
          "resolve": {"axis": {"x": "independent", "y": "independent"}},
          "layer": [
            {"data": {"name": "bands"}, "transform": [{"filter": "datum.p === 5"}],
             "mark": {"type": "rect", "color": "#ffff1a"},
             "encoding": {"x": {"value": 0}, "x2": {"value": "width"},
               "y": {"field": "lo", "type": "quantitative", "scale": {"domain": [-0.29, 14.58], "nice": false, "zero": false},
                     "axis": {"orient": "left", "values": [0,0.5,1,1.5,2,2.5,3,3.5,4,4.5,5,5.5,6,6.5,7,7.5,8,8.5,9,9.5,10,10.5,11,11.5,12,12.5,13,13.5,14,14.5],
                              "labels": false, "title": null, "tickSize": 5, "offset": -5}},
               "y2": {"field": "hi"}}},
            {"data": {"name": "curves"}, "transform": [{"filter": "datum.p === 5 && datum.c === 'solid'"}],
             "mark": {"type": "line", "color": "#333", "strokeWidth": 0.9, "clip": true},
             "encoding": {"x": {"field": "E", "type": "quantitative", "scale": {"domain": [0, 7.66], "nice": false, "zero": false}, "axis": null},
                          "y": {"field": "T", "type": "quantitative", "scale": {"domain": [-0.29, 14.58], "nice": false, "zero": false}, "axis": null}}},
            {"data": {"name": "curves"}, "transform": [{"filter": "datum.p === 5 && datum.c === 'dashed'"}],
             "mark": {"type": "line", "color": "#000", "strokeWidth": 2, "strokeDash": [3, 2], "clip": true},
             "encoding": {"x": {"field": "E", "type": "quantitative", "scale": {"domain": [0, 7.66], "nice": false, "zero": false},
                                "axis": {"orient": "bottom", "values": [0,1,2,3,4,5,6,7],
                                         "labelExpr": "datum.value % 5 === 0 ? datum.label : ''", "labelPadding": 8,
                                         "title": "Ex/A, MeV/u", "titleX": 129, "titleAlign": "right", "titlePadding": 12, "tickSize": 5, "offset": -5}},
                          "y": {"field": "T", "type": "quantitative", "scale": {"domain": [-0.29, 14.58], "nice": false, "zero": false}, "axis": null}}},
            {"data": {"name": "pts"}, "transform": [{"filter": "datum.p === 5"}],
             "mark": {"type": "errorbar", "ticks": true, "size": 6, "thickness": 1, "color": "#666"},
             "encoding": {"x": {"field": "E", "type": "quantitative", "scale": {"domain": [0, 7.66], "nice": false, "zero": false}, "axis": null},
                          "y": {"field": "T", "type": "quantitative", "scale": {"domain": [-0.29, 14.58], "nice": false, "zero": false}, "axis": null},
                          "yError": {"field": "err"}}},
            {"data": {"name": "pts"}, "transform": [{"filter": "datum.p === 5"}],
             "mark": {"type": "point", "opacity": 1, "strokeWidth": 0.8},
             "encoding": {"x": {"field": "E", "type": "quantitative", "scale": {"domain": [0, 7.66], "nice": false, "zero": false}, "axis": null},
                          "y": {"field": "T", "type": "quantitative", "scale": {"domain": [-0.29, 14.58], "nice": false, "zero": false}, "axis": null},
                          "shape": {"field": "s", "type": "nominal", "legend": null, "scale": {"domain": ["ydia","bdia","bsq","olc","blsq","rtri","lavc","ysmall","blc","ysq","hsq","btri","rcirc"], "range": ["diamond","diamond","square","circle","square","triangle-up","circle","circle","circle","square","square","triangle-up","circle"]}},
                          "fill": {"field": "s", "type": "nominal", "legend": null, "scale": {"domain": ["ydia","bdia","bsq","olc","blsq","rtri","lavc","ysmall","blc","ysq","hsq","btri","rcirc"], "range": ["#ffff00","#1034e8","#111111","#a19d5f","#1f3cff","#f02a00","#8585d0","#ffd400","#111111","#ffff3a","#b2aa66","#111111","#e8201c"]}},
                          "stroke": {"field": "s", "type": "nominal", "legend": null, "scale": {"domain": ["ydia","bdia","bsq","olc","blsq","rtri","lavc","ysmall","blc","ysq","hsq","btri","rcirc"], "range": ["#6b6b00","#1034e8","#000000","#333333","#1f3cff","#8a2000","#5858a8","#b07000","#000000","#333333","#333333","#000000","#901010"]}},
                          "size": {"field": "s", "type": "nominal", "legend": null, "scale": {"type": "ordinal", "domain": ["ydia","bdia","bsq","olc","blsq","rtri","lavc","ysmall","blc","ysq","hsq","btri","rcirc"], "range": [45,70,95,65,90,70,60,35,70,85,85,70,65]}}}},
            {"data": {"name": "pts"}, "transform": [{"filter": "datum.p === 5 && (datum.s === 'bsq' || datum.s === 'ysq' || datum.s === 'hsq' || datum.s === 'olc')"}],
             "mark": {"type": "point", "opacity": 1, "strokeWidth": 1, "filled": false},
             "encoding": {"x": {"field": "E", "type": "quantitative", "scale": {"domain": [0, 7.66], "nice": false, "zero": false}, "axis": null},
                          "y": {"field": "T", "type": "quantitative", "scale": {"domain": [-0.29, 14.58], "nice": false, "zero": false}, "axis": null},
                          "shape": {"field": "s", "type": "nominal", "legend": null, "scale": {"domain": ["bsq","ysq","hsq","olc"], "range": ["M-1,0H1M0,-1V1","circle","M-1,-1L1,1M1,-1L-1,1","M-0.6,-0.6L0.6,0.6M0.6,-0.6L-0.6,0.6"]}},
                          "stroke": {"field": "s", "type": "nominal", "legend": null, "scale": {"domain": ["bsq","ysq","hsq","olc"], "range": ["#ffff66","#333333","#222222","#333333"]}},
                          "size": {"field": "s", "type": "nominal", "legend": null, "scale": {"type": "ordinal", "domain": ["bsq","ysq","hsq","olc"], "range": [40,4,50,30]}}}},
            {"data": {"name": "labels"}, "transform": [{"filter": "datum.p === 5"}],
             "mark": {"type": "text", "align": "left", "baseline": "middle", "font": "Liberation Sans", "fontWeight": "bold", "fontSize": 15.5, "color": "#000"},
             "encoding": {"x": {"datum": 0.54, "type": "quantitative", "scale": {"domain": [0, 7.66], "nice": false, "zero": false}, "axis": null},
                          "y": {"datum": 13.78, "type": "quantitative", "scale": {"domain": [-0.29, 14.58], "nice": false, "zero": false}, "axis": null},
                          "text": {"field": "t"}}}
          ]
        }
      ]
    }
  ]
}
